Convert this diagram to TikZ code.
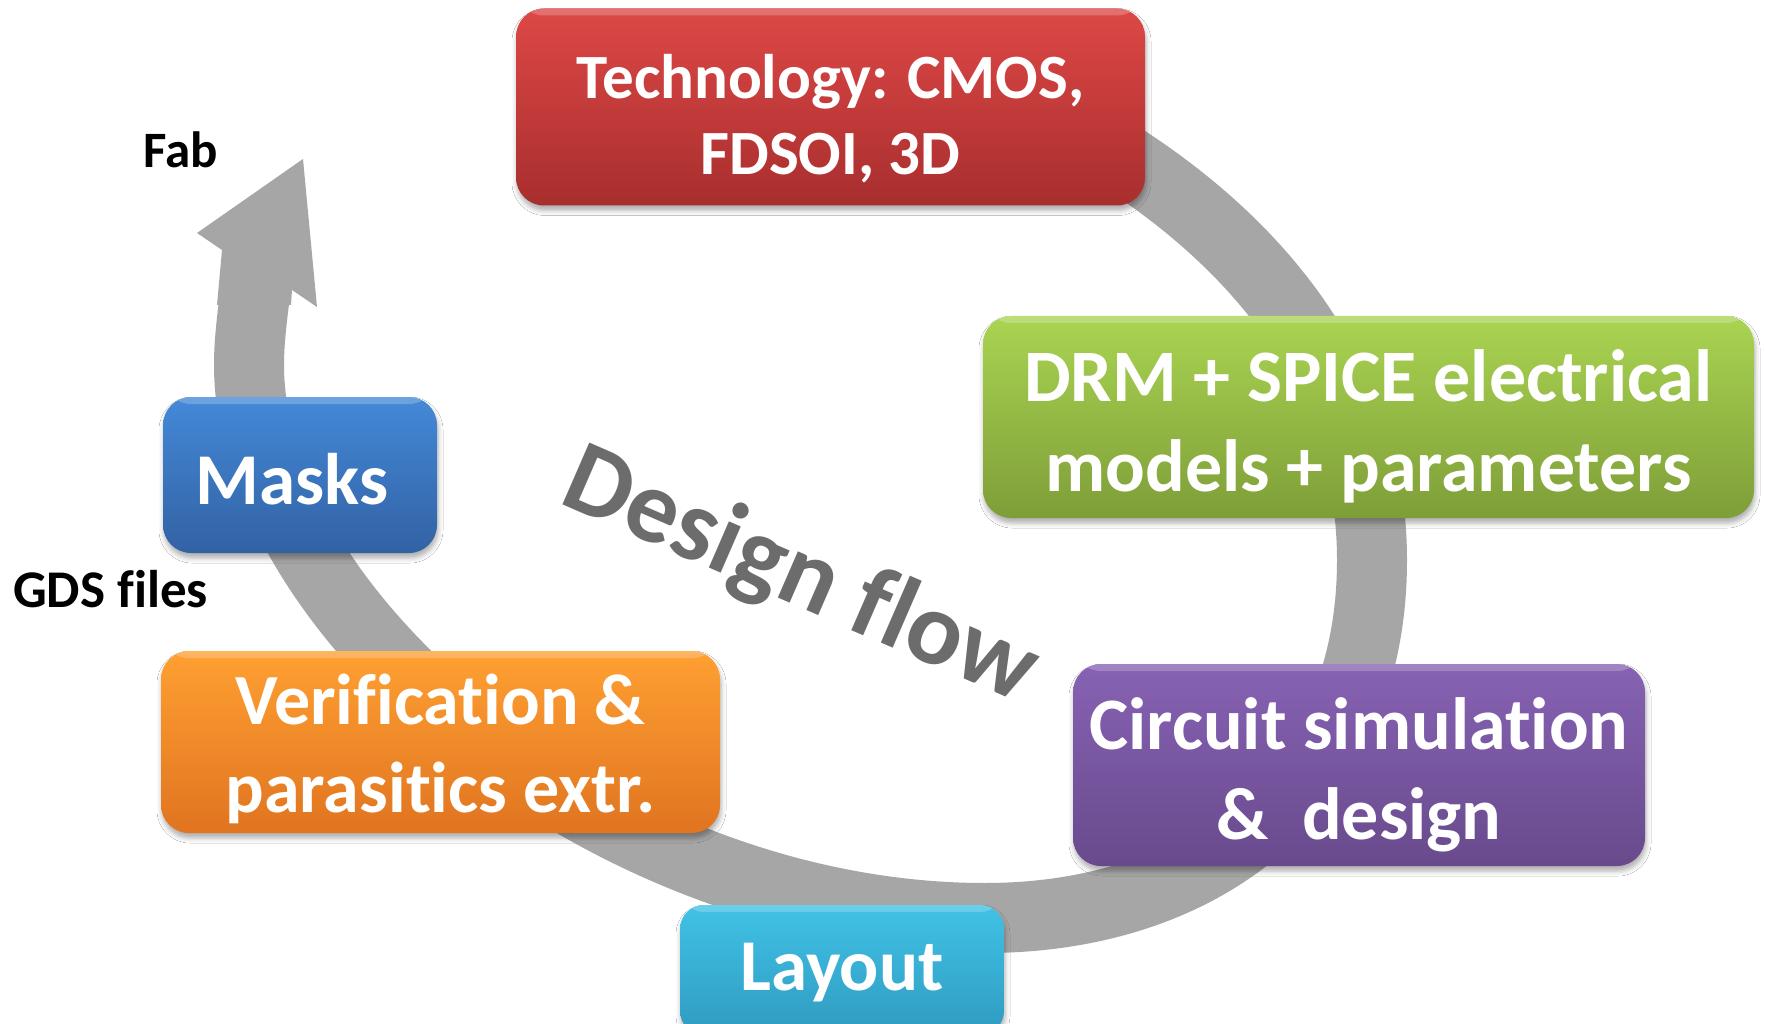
\documentclass[tikz,border=0pt]{standalone}
\usepackage{fontspec}
\setmainfont{Carlito}[Ligatures=NoCommon]
\usetikzlibrary{shadows.blur}

\definecolor{ringgray}{RGB}{166,166,166}
\definecolor{flowgray}{RGB}{108,108,108}
\definecolor{redtop}{RGB}{221,72,70}
\definecolor{redbot}{RGB}{168,46,46}
\definecolor{greentop}{RGB}{170,212,82}
\definecolor{greenbot}{RGB}{126,158,56}
\definecolor{purpletop}{RGB}{135,98,180}
\definecolor{purplebot}{RGB}{104,74,140}
\definecolor{bluetop}{RGB}{68,137,216}
\definecolor{bluebot}{RGB}{50,98,164}
\definecolor{orangetop}{RGB}{255,160,50}
\definecolor{orangebot}{RGB}{224,116,32}
\definecolor{cyantop}{RGB}{64,194,230}
\definecolor{cyanbot}{RGB}{48,154,192}

% centred lines of a stage label, lowered by #1 without changing the box size
\newcommand{\stagetext}[2]{\raisebox{#1}[\height][\depth]{\begin{tabular}{@{}c@{}}#2\end{tabular}}}

\tikzset{
  stage/.style={rounded corners=28pt, text=white, inner sep=0pt,
    blur shadow={shadow xshift=1pt, shadow yshift=-5pt,
      shadow blur radius=5pt, shadow opacity=32},
    path picture={\fill[white, opacity=0.22]
      (path picture bounding box.north west) rectangle
      ([yshift=-7pt]path picture bounding box.north east);}},
  shadecol/.style 2 args={top color=#1, bottom color=#2},
  ring/.style={ringgray, line width=70pt},
  plain/.style={inner sep=0pt, font=\bfseries}
}

\begin{document}
\begin{tikzpicture}[x=1pt, y=-1pt]
\useasboundingbox[fill=white] (0,0) rectangle (1765,1024);

% circular flow arrow: band through the right, bottom and left, head at top left
\draw[ring] (1000,92)
  .. controls (1189,176) and (1372,330) .. (1372,560)
  .. controls (1372,790) and (1205,918) .. (985,918)
  .. controls (605,918) and (249,615) .. (249,365)
  .. controls (249,338) and (253,312) .. (256,285);
\fill[ringgray] (217,305) -- (222,250) -- (197,233) -- (303,159)
  -- (317,307) -- (292,290) -- (291,305) -- cycle;

% stages of the flow
\node[stage, shadecol={redtop}{redbot}, minimum width=629pt, minimum height=197pt,
  font=\bfseries\fontsize{63}{76}\selectfont] (tech) at (830.5,107)
  {\stagetext{-14pt}{Technology: CMOS,\\FDSOI, 3D}};
\node[stage, shadecol={greentop}{greenbot}, minimum width=771pt, minimum height=202pt,
  font=\bfseries\fontsize{74}{90}\selectfont] (drm) at (1368.5,417)
  {\stagetext{-12pt}{DRM + SPICE electrical\\models + parameters}};
\node[stage, shadecol={purpletop}{purplebot}, minimum width=572pt, minimum height=202pt,
  font=\bfseries\fontsize{74}{90}\selectfont] (circuit) at (1359,765)
  {\stagetext{-11pt}{Circuit simulation\\\&\ \ design}};
\node[stage, shadecol={cyantop}{cyanbot}, minimum width=324pt, minimum height=130pt,
  rounded corners=24pt, font=\bfseries\fontsize{73}{89}\selectfont] (layout) at (842,970)
  {\stagetext{-3pt}{Layout}};
\node[stage, shadecol={orangetop}{orangebot}, minimum width=559pt, minimum height=182pt,
  font=\bfseries\fontsize{72}{88}\selectfont] (verif) at (440.5,742)
  {\stagetext{-8.5pt}{Verification \&\\parasitics extr.}};
\node[stage, shadecol={bluetop}{bluebot}, minimum width=274pt, minimum height=156pt,
  font=\bfseries\fontsize{73}{89}\selectfont] (masks) at (300,475)
  {\stagetext{-12pt}{\kern-16pt Masks}};

% free labels
\node[plain, anchor=base west, font=\bfseries\fontsize{51}{61}\selectfont] (fab) at (143,168) {Fab};
\node[plain, anchor=base west, font=\bfseries\fontsize{53}{64}\selectfont] (gds) at (13,607) {GDS files};
\node[plain, anchor=base, rotate=-23.5, text=flowgray,
  font=\bfseries\fontsize{104}{124}\selectfont] (flow) at (789,603) {Design flow};
\end{tikzpicture}
\end{document}
